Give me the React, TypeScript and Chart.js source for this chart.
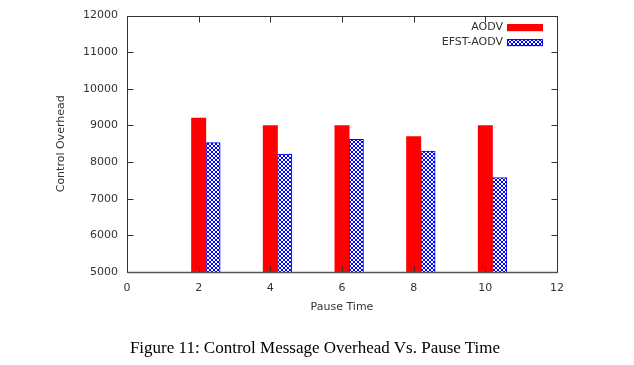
import React, { useEffect, useRef } from "react";
import { Chart, registerables } from "chart.js";

Chart.register(...registerables);

const pauseTimes = [2, 4, 6, 8, 10];
const aodvValues = [9200, 9000, 9000, 8700, 9000];
const efstAodvValues = [8530, 8220, 8620, 8300, 7580];
const seriesLabels = ["AODV", "EFST-AODV"];
const xTickValues = [0, 2, 4, 6, 8, 10, 12];
const yTickValues = [5000, 6000, 7000, 8000, 9000, 10000, 11000, 12000];

// the second series is plotted one box-width to the right, as in the gnuplot original
const SECOND_SERIES_SHIFT = 0.4;

const AXIS_FONT = "'DejaVu Sans', sans-serif";
const TEXT_COLOR = "#333333";

function makeHatch(): CanvasPattern | string {
  const c = document.createElement("canvas");
  c.width = 4;
  c.height = 4;
  const g = c.getContext("2d");
  if (!g) return "#0000ff";
  g.fillStyle = "#ffffff";
  g.fillRect(0, 0, 4, 4);
  g.strokeStyle = "#0000ff";
  g.lineWidth = 1;
  g.beginPath();
  g.moveTo(0, 0);
  g.lineTo(4, 4);
  g.moveTo(4, 0);
  g.lineTo(0, 4);
  g.stroke();
  const p = g.createPattern(c, "repeat");
  return p || "#0000ff";
}

const framePlugin = {
  id: "gnuFrame",
  afterDatasetsDraw(chart: any) {
    const { ctx, chartArea, scales } = chart;
    const { left, right, top, bottom } = chartArea;
    const xs = scales.x;
    const ys = scales.y;
    ctx.save();
    ctx.strokeStyle = "#333333";
    ctx.lineWidth = 1;
    const L = Math.round(left) + 0.5;
    const R = Math.round(right) + 0.5;
    const T = Math.round(top) + 0.5;
    const B = Math.round(bottom) + 0.5;
    ctx.beginPath();
    ctx.rect(L, T, R - L, B - T);
    const tl = 6;
    xTickValues.forEach((v) => {
      const px = Math.round(xs.getPixelForValue(v)) + 0.5;
      ctx.moveTo(px, B);
      ctx.lineTo(px, B - tl);
      ctx.moveTo(px, T);
      ctx.lineTo(px, T + tl);
    });
    yTickValues.forEach((v) => {
      const py = Math.round(ys.getPixelForValue(v)) + 0.5;
      ctx.moveTo(L, py);
      ctx.lineTo(L + tl, py);
      ctx.moveTo(R, py);
      ctx.lineTo(R - tl, py);
    });
    ctx.stroke();
    ctx.beginPath();
    ctx.lineWidth = 1.5;
    ctx.strokeStyle = "#555555";
    ctx.moveTo(L, B);
    ctx.lineTo(R, B);
    ctx.stroke();

    // legend (top right inside plot area)
    ctx.font = `11px ${AXIS_FONT}`;
    ctx.textAlign = "right";
    ctx.textBaseline = "middle";
    const ds = chart.data.datasets;
    const rowY = [24, 39];
    ds.forEach((d: any, i: number) => {
      const cy = top + rowY[i] - 12;
      ctx.fillStyle = TEXT_COLOR;
      ctx.fillText(d.label, right - 54, cy);
      ctx.fillStyle = d.backgroundColor;
      ctx.fillRect(right - 50, cy - 3.5, 36, 7);
      ctx.strokeStyle = d.borderColor;
      ctx.lineWidth = 1;
      ctx.strokeRect(right - 50 + 0.5, cy - 3.5 + 0.5, 35, 6);
    });
    ctx.restore();
  },
};

export default function App() {
  const ref = useRef<HTMLCanvasElement | null>(null);
  useEffect(() => {
    document.body.style.margin = "0";
    const canvas = ref.current;
    if (!canvas) return;
    const hatch = makeHatch();
    const chart = new Chart(canvas, {
      type: "bar",
      data: {
        datasets: [
          {
            label: seriesLabels[0],
            data: pauseTimes.map((t, i) => ({ x: t, y: aodvValues[i] })),
            backgroundColor: "#ff0000",
            borderColor: "#ff0000",
            borderWidth: 0,
            grouped: false,
            barPercentage: 1,
            categoryPercentage: 1,
          },
          {
            label: seriesLabels[1],
            data: pauseTimes.map((t, i) => ({ x: t + SECOND_SERIES_SHIFT, y: efstAodvValues[i] })),
            backgroundColor: hatch as any,
            borderColor: "#0000ff",
            borderWidth: 1,
            grouped: false,
            barPercentage: 1,
            categoryPercentage: 1,
          },
        ],
      },
      options: {
        animation: false,
        responsive: false,
        maintainAspectRatio: false,
        layout: { padding: { left: 51, top: 12, right: 77, bottom: 47 } },
        plugins: { legend: { display: false }, tooltip: { enabled: false } },
        scales: {
          x: {
            type: "linear",
            min: 0,
            max: 12,
            offset: false,
            grid: { display: false, drawTicks: false },
            border: { display: false },
            afterBuildTicks: (s: any) => {
              s.ticks = xTickValues.map((v) => ({ value: v }));
            },
            afterFit: (s: any) => {
              s.height = 46;
            },
            ticks: {
              padding: 10,
              color: TEXT_COLOR,
              font: { family: AXIS_FONT, size: 11 },
              maxRotation: 0,
              callback: (v: any) => String(v),
            },
            title: {
              display: true,
              text: "Pause Time",
              color: TEXT_COLOR,
              font: { family: AXIS_FONT, size: 11 },
            },
          },
          y: {
            type: "linear",
            min: 5000,
            max: 12000,
            grid: { display: false, drawTicks: false },
            border: { display: false },
            afterBuildTicks: (s: any) => {
              s.ticks = yTickValues.map((v) => ({ value: v }));
            },
            afterFit: (s: any) => {
              s.width = 76;
            },
            ticks: {
              padding: 9,
              color: TEXT_COLOR,
              font: { family: AXIS_FONT, size: 11 },
              callback: (v: any) => String(v),
            },
            title: {
              display: true,
              text: "Control Overhead",
              color: TEXT_COLOR,
              font: { family: AXIS_FONT, size: 11 },
            },
          },
        },
      },
      plugins: [framePlugin],
    });
    return () => chart.destroy();
  }, []);

  return (
    <div style={{ position: "relative", width: 634, height: 365, background: "#fff" }}>
      <canvas ref={ref} width={634} height={365} style={{ display: "block" }} />
      <div
        style={{
          position: "absolute",
          left: 0,
          width: 630,
          top: 338,
          textAlign: "center",
          fontFamily: "'Liberation Serif', 'Times New Roman', serif",
          fontSize: 17,
          color: "#000",
          lineHeight: "20px",
          whiteSpace: "nowrap",
        }}
      >
        Figure 11: Control Message Overhead Vs. Pause Time
      </div>
    </div>
  );
}
